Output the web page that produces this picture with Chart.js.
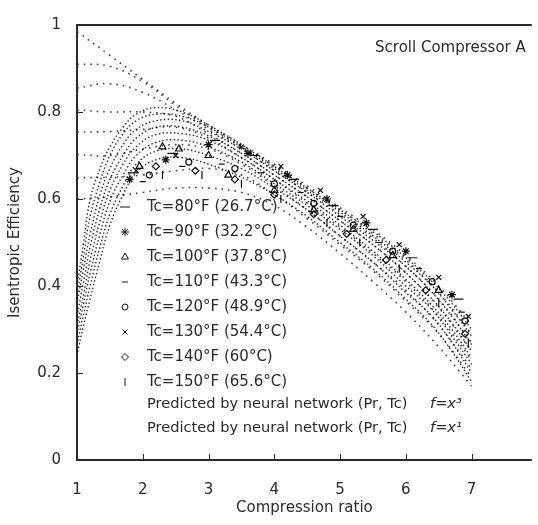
<!DOCTYPE html>
<html>
<head>
<meta charset="utf-8">
<script src="https://cdn.jsdelivr.net/npm/chart.js@4.4.1/dist/chart.umd.min.js"></script>
<style>
  html, body { margin: 0; padding: 0; background: #fff; }
</style>
</head>
<body>
<canvas id="myChart" width="538" height="525"></canvas>
<script>
// tick labels
const xTicks = [1, 2, 3, 4, 5, 6, 7];
const yTicks = [0, 0.2, 0.4, 0.6, 0.8, 1];
const chartLabel = 'Scroll Compressor A';

const tcLabels = ['Tc=80°F (26.7°C)', 'Tc=90°F (32.2°C)', 'Tc=100°F (37.8°C)', 'Tc=110°F (43.3°C)',
                  'Tc=120°F (48.9°C)', 'Tc=130°F (54.4°C)', 'Tc=140°F (60°C)', 'Tc=150°F (65.6°C)'];

// neural network prediction, f = x^3
const ratioCubic = [1, 1.1, 1.2, 1.35, 1.5, 1.7, 1.9, 2.2, 2.6, 3, 3.5, 4, 4.5, 5, 5.5, 6, 6.4, 6.7, 7];
const cubic80  = [0.40, 0.50, 0.60, 0.67, 0.72, 0.765, 0.795, 0.81, 0.80, 0.77, 0.725, 0.675, 0.625, 0.575, 0.525, 0.465, 0.41, 0.36, 0.30];
const cubic90  = [0.38, 0.47, 0.56, 0.64, 0.70, 0.75, 0.78, 0.795, 0.79, 0.765, 0.72, 0.67, 0.62, 0.57, 0.515, 0.455, 0.40, 0.345, 0.285];
const cubic100 = [0.36, 0.44, 0.52, 0.61, 0.67, 0.725, 0.76, 0.78, 0.78, 0.755, 0.715, 0.665, 0.615, 0.56, 0.505, 0.445, 0.385, 0.33, 0.265];
const cubic110 = [0.33, 0.41, 0.49, 0.58, 0.645, 0.70, 0.74, 0.765, 0.765, 0.745, 0.705, 0.655, 0.605, 0.55, 0.495, 0.43, 0.37, 0.315, 0.25];
const cubic120 = [0.31, 0.38, 0.46, 0.55, 0.62, 0.68, 0.72, 0.748, 0.75, 0.735, 0.695, 0.645, 0.595, 0.54, 0.48, 0.415, 0.355, 0.30, 0.235];
const cubic130 = [0.29, 0.36, 0.43, 0.52, 0.595, 0.655, 0.70, 0.73, 0.735, 0.72, 0.685, 0.635, 0.585, 0.53, 0.47, 0.40, 0.345, 0.285, 0.22];
const cubic140 = [0.265, 0.335, 0.40, 0.49, 0.565, 0.63, 0.68, 0.71, 0.715, 0.70, 0.67, 0.625, 0.575, 0.515, 0.455, 0.385, 0.33, 0.27, 0.20];
const cubic150 = [0.24, 0.31, 0.37, 0.46, 0.54, 0.61, 0.66, 0.69, 0.695, 0.68, 0.65, 0.61, 0.56, 0.50, 0.44, 0.37, 0.31, 0.25, 0.18];

// neural network prediction, f = x^1
const ratioLinear = [1, 1.5, 2, 2.5, 3, 3.5, 4, 4.5, 5, 5.5, 6, 6.5, 7];
const lin80  = [0.985, 0.93, 0.875, 0.82, 0.77, 0.725, 0.68, 0.63, 0.58, 0.53, 0.47, 0.40, 0.31];
const lin90  = [0.91, 0.905, 0.87, 0.815, 0.765, 0.72, 0.675, 0.625, 0.575, 0.52, 0.46, 0.385, 0.29];
const lin100 = [0.855, 0.865, 0.845, 0.805, 0.76, 0.715, 0.665, 0.615, 0.565, 0.51, 0.445, 0.37, 0.27];
const lin110 = [0.805, 0.80, 0.80, 0.79, 0.75, 0.705, 0.655, 0.605, 0.55, 0.495, 0.43, 0.35, 0.25];
const lin120 = [0.754, 0.755, 0.76, 0.765, 0.74, 0.695, 0.645, 0.59, 0.535, 0.475, 0.41, 0.33, 0.23];
const lin130 = [0.702, 0.70, 0.715, 0.725, 0.715, 0.68, 0.63, 0.575, 0.515, 0.455, 0.39, 0.31, 0.21];
const lin140 = [0.649, 0.65, 0.655, 0.665, 0.67, 0.655, 0.61, 0.555, 0.495, 0.435, 0.365, 0.29, 0.19];
const lin150 = [0.60, 0.605, 0.615, 0.625, 0.625, 0.615, 0.585, 0.535, 0.475, 0.41, 0.34, 0.26, 0.17];

// measured points [ratio, efficiency]
const exp80  = [[1.85, 0.66], [2.45, 0.705], [3.1, 0.735], [3.7, 0.70], [4.3, 0.645], [4.9, 0.585], [5.5, 0.53], [6.1, 0.465], [6.8, 0.37]];
const exp90  = [[1.8, 0.645], [2.35, 0.69], [3.0, 0.725], [3.6, 0.705], [4.2, 0.655], [4.8, 0.60], [5.4, 0.545], [6.0, 0.48], [6.7, 0.38]];
const exp100 = [[1.95, 0.675], [2.3, 0.72], [2.55, 0.715], [3.0, 0.70], [3.3, 0.655], [4.0, 0.62], [4.6, 0.575], [5.2, 0.53], [5.8, 0.47], [6.5, 0.39]];
const exp110 = [[2.0, 0.64], [2.6, 0.675], [3.2, 0.68], [3.8, 0.66], [4.4, 0.615], [5.0, 0.56], [5.6, 0.50], [6.2, 0.44], [6.85, 0.34]];
const exp120 = [[2.1, 0.655], [2.7, 0.685], [3.4, 0.67], [4.0, 0.635], [4.6, 0.59], [5.2, 0.54], [5.8, 0.48], [6.4, 0.41], [6.9, 0.32]];
const exp130 = [[1.9, 0.665], [2.5, 0.70], [3.5, 0.72], [4.1, 0.675], [4.7, 0.62], [5.35, 0.56], [5.9, 0.495], [6.5, 0.42], [6.95, 0.33]];
const exp140 = [[2.2, 0.675], [2.8, 0.665], [3.4, 0.645], [4.0, 0.61], [4.6, 0.565], [5.1, 0.52], [5.7, 0.46], [6.3, 0.39], [6.9, 0.29]];
const exp150 = [[2.3, 0.655], [2.9, 0.655], [3.5, 0.635], [4.1, 0.60], [4.8, 0.545], [5.3, 0.50], [5.9, 0.44], [6.5, 0.36], [6.95, 0.27]];

const cubicCurves = [cubic80, cubic90, cubic100, cubic110, cubic120, cubic130, cubic140, cubic150];
const linCurves = [lin80, lin90, lin100, lin110, lin120, lin130, lin140, lin150];
const expPoints = [exp80, exp90, exp100, exp110, exp120, exp130, exp140, exp150];

const markerStyles = [
  { pointStyle: 'line', radius: 5, rotation: 0 },
  { pointStyle: 'star', radius: 4, rotation: 0 },
  { pointStyle: 'triangle', radius: 4, rotation: 0 },
  { pointStyle: 'line', radius: 3, rotation: 0 },
  { pointStyle: 'circle', radius: 3, rotation: 0 },
  { pointStyle: 'crossRot', radius: 3.5, rotation: 0 },
  { pointStyle: 'rectRot', radius: 3.5, rotation: 0 },
  { pointStyle: 'line', radius: 4, rotation: 90 }
];

const FONT = '"DejaVu Sans", sans-serif';
const TEXT = '#2a2a2a';

const datasets = [];
linCurves.forEach((c, i) => {
  datasets.push({
    label: 'lin ' + tcLabels[i],
    data: ratioLinear.map((r, k) => ({ x: r, y: c[k] })),
    borderColor: 'rgba(0,0,0,0.75)',
    borderWidth: 1.6,
    borderDash: [1.6, 5],
    pointRadius: 0,
    tension: 0.4,
    fill: false
  });
});
cubicCurves.forEach((c, i) => {
  datasets.push({
    label: 'cubic ' + tcLabels[i],
    data: ratioCubic.map((r, k) => ({ x: r, y: c[k] })),
    borderColor: 'rgba(0,0,0,0.85)',
    borderWidth: 1.4,
    borderDash: [1.4, 2.4],
    pointRadius: 0,
    tension: 0.4,
    fill: false
  });
});
expPoints.forEach((p, i) => {
  const m = markerStyles[i];
  datasets.push({
    label: tcLabels[i],
    data: p.map(d => ({ x: d[0], y: d[1] })),
    showLine: false,
    pointStyle: m.pointStyle,
    pointRadius: m.radius,
    pointRotation: m.rotation,
    pointBorderColor: '#111',
    pointBackgroundColor: 'rgba(0,0,0,0)',
    pointBorderWidth: 1.2
  });
});

// frame, inward ticks, caption and legend
const decor = {
  id: 'decor',
  afterDatasetsDraw(chart) {
    const { ctx, chartArea: a, scales: { x, y } } = chart;
    ctx.save();
    ctx.strokeStyle = '#2a2a2a';
    ctx.lineWidth = 2;
    ctx.beginPath();
    ctx.moveTo(a.right, a.top);
    ctx.lineTo(a.left, a.top);
    ctx.lineTo(a.left, a.bottom);
    ctx.lineTo(a.right, a.bottom);
    ctx.stroke();

    ctx.lineWidth = 1;
    ctx.beginPath();
    xTicks.slice(1).forEach(v => {
      const px = Math.round(x.getPixelForValue(v)) + 0.5;
      ctx.moveTo(px, a.bottom);
      ctx.lineTo(px, a.bottom - 6);
    });
    yTicks.slice(1, -1).forEach(v => {
      const py = Math.round(y.getPixelForValue(v)) + 0.5;
      ctx.moveTo(a.left, py);
      ctx.lineTo(a.left + 6, py);
    });
    ctx.stroke();

    ctx.fillStyle = TEXT;
    ctx.font = '15px ' + FONT;
    ctx.textAlign = 'right';
    ctx.textBaseline = 'middle';
    ctx.fillText(chartLabel, a.right - 6, a.top + 23);

    // legend
    ctx.textAlign = 'left';
    tcLabels.forEach((t, i) => {
      const ly = 207 + i * 25;
      const m = markerStyles[i];
      ctx.strokeStyle = '#111';
      ctx.fillStyle = 'rgba(0,0,0,0)';
      Chart.helpers.drawPoint(ctx, { pointStyle: m.pointStyle, radius: m.radius, rotation: m.rotation, borderWidth: 1.2 }, 125, ly);
      ctx.fillStyle = TEXT;
      ctx.fillText(t, 147, ly);
    });
    const predicted = 'Predicted by neural network (Pr, Tc)';
    [['f=x³', 404], ['f=x¹', 428]].forEach(([f, ly]) => {
      ctx.font = '14.6px ' + FONT;
      ctx.fillText(predicted, 147, ly);
      ctx.font = 'italic 14.6px ' + FONT;
      ctx.fillText(f, 430, ly);
    });
    ctx.restore();
  }
};

new Chart(document.getElementById('myChart'), {
  type: 'line',
  data: { datasets },
  options: {
    responsive: false,
    animation: false,
    events: [],
    layout: { padding: { top: 13, left: 0, right: 0, bottom: 0 } },
    plugins: { legend: { display: false }, tooltip: { enabled: false } },
    scales: {
      x: {
        type: 'linear',
        min: 1,
        max: 7.915,
        afterBuildTicks: s => { s.ticks = xTicks.map(v => ({ value: v })); },
        afterFit: s => { s.height = 65; },
        grid: { display: false, drawTicks: false },
        border: { display: false },
        ticks: { padding: 21, color: TEXT, font: { family: FONT, size: 15 }, maxRotation: 0, autoSkip: false },
        title: { display: true, text: 'Compression ratio', color: TEXT, font: { family: FONT, size: 15 }, padding: { top: 0, bottom: 8 } }
      },
      y: {
        type: 'linear',
        min: 0,
        max: 1,
        afterBuildTicks: s => { s.ticks = yTicks.map(v => ({ value: v })); },
        afterFit: s => { s.width = 77; },
        grid: { display: false, drawTicks: false },
        border: { display: false },
        ticks: {
          padding: 16, color: TEXT, font: { family: FONT, size: 15 }, autoSkip: false,
          callback: v => (v === 0 || v === 1) ? String(v) : v.toFixed(1)
        },
        title: { display: true, text: 'Isentropic Efficiency', color: TEXT, font: { family: FONT, size: 15 }, padding: { top: 6, bottom: 0 } }
      }
    }
  },
  plugins: [decor]
});
</script>
</body>
</html>
